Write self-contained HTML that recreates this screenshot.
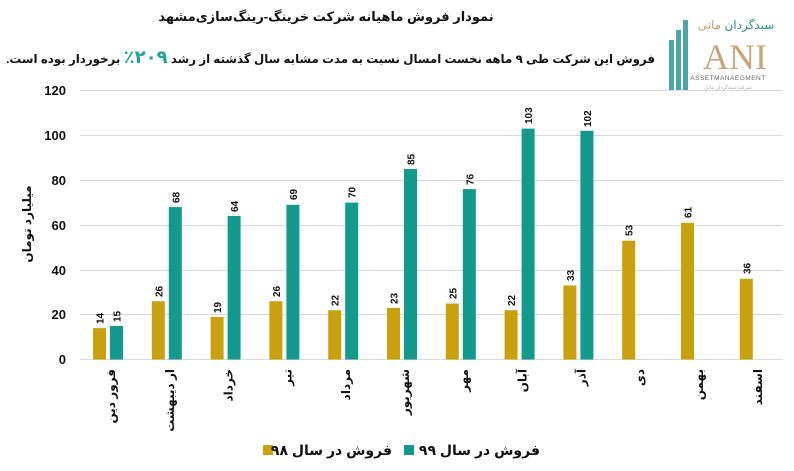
<!DOCTYPE html>
<html><head><meta charset="utf-8"><style>
body{margin:0;background:#fff;position:relative;width:794px;height:471px;overflow:hidden;}
svg{display:block;font-family:"Liberation Sans","DejaVu Sans",sans-serif;}
#sub{position:absolute;right:139px;top:47px;direction:rtl;white-space:nowrap;font-family:"Liberation Sans","DejaVu Sans",sans-serif;font-weight:bold;font-size:11.8px;color:#111;line-height:20px;}
#sub span{color:#1fa59a;font-size:18px;}
</style></head><body>
<svg width="794" height="471" viewBox="0 0 794 471" xmlns="http://www.w3.org/2000/svg">
<rect width="794" height="471" fill="#fff"/>
<text x="326" y="21" text-anchor="middle" font-size="13" font-weight="bold" fill="#111">نمودار فروش ماهیانه شرکت خرینگ-رینگ‌سازی‌مشهد</text>
<g>
<rect x="669" y="40" width="5" height="50" fill="#4aa6a8"/>
<rect x="676" y="30" width="5" height="60" fill="#4aa6a8"/>
<rect x="683" y="20" width="5" height="70" fill="#4aa6a8"/>
<text x="736" y="29" text-anchor="middle" font-size="12" fill="#2f8f94">سبدگردان <tspan fill="#c89e70">مانی</tspan></text>
<text x="735" y="69" text-anchor="middle" font-size="36" fill="#c8a47a" font-family="Liberation Serif,serif">ANI</text>
<text x="728" y="80" text-anchor="middle" font-size="6.5" fill="#666" letter-spacing="0.5">ASSETMANAEGMENT</text>
<text x="728" y="89" text-anchor="middle" font-size="5" fill="#aaa">شرکت سبدگردان مانی</text>
</g>
<g stroke="#d9d9d9" stroke-width="1">
<line x1="80" x2="783" y1="90.5" y2="90.5"/>
<line x1="80" x2="783" y1="135.5" y2="135.5"/>
<line x1="80" x2="783" y1="180.5" y2="180.5"/>
<line x1="80" x2="783" y1="225.5" y2="225.5"/>
<line x1="80" x2="783" y1="270.5" y2="270.5"/>
<line x1="80" x2="783" y1="314.5" y2="314.5"/>
<line x1="80" x2="783" y1="359.5" y2="359.5"/>
</g>
<g font-size="13" font-weight="bold" fill="#111" text-anchor="end">
<text x="66" y="95">120</text><text x="66" y="140">100</text><text x="66" y="185">80</text>
<text x="66" y="230">60</text><text x="66" y="275">40</text><text x="66" y="319">20</text><text x="66" y="364">0</text>
</g>
<text transform="translate(31,224) rotate(-90)" text-anchor="middle" font-size="12" font-weight="bold" fill="#111">میلیارد تومان</text>

<g fill="#c9a00e">
<rect x="93" y="328.1" width="13" height="31.4"/>
<rect x="151.8" y="301.2" width="13" height="58.3"/>
<rect x="210.6" y="316.9" width="13" height="42.6"/>
<rect x="269.4" y="301.2" width="13" height="58.3"/>
<rect x="328.2" y="310.2" width="13" height="49.3"/>
<rect x="387" y="307.9" width="13" height="51.6"/>
<rect x="445.8" y="303.5" width="13" height="56"/>
<rect x="504.6" y="310.2" width="13" height="49.3"/>
<rect x="563.4" y="285.5" width="13" height="74"/>
<rect x="622.2" y="240.7" width="13" height="118.8"/>
<rect x="681" y="222.8" width="13" height="136.7"/>
<rect x="739.8" y="278.8" width="13" height="80.7"/>
</g>
<g fill="#14998f">
<rect x="110" y="325.9" width="13" height="33.6"/>
<rect x="168.8" y="207.1" width="13" height="152.4"/>
<rect x="227.6" y="216" width="13" height="143.5"/>
<rect x="286.4" y="204.8" width="13" height="154.7"/>
<rect x="345.2" y="202.6" width="13" height="156.9"/>
<rect x="404" y="169" width="13" height="190.5"/>
<rect x="462.8" y="189.1" width="13" height="170.4"/>
<rect x="521.6" y="128.6" width="13" height="230.9"/>
<rect x="580.4" y="130.8" width="13" height="228.7"/>
</g>
<g font-size="10" font-weight="bold" fill="#111">
<text transform="translate(103.5,324) rotate(-90)">14</text>
<text transform="translate(162.3,297) rotate(-90)">26</text>
<text transform="translate(221.1,313) rotate(-90)">19</text>
<text transform="translate(279.9,297) rotate(-90)">26</text>
<text transform="translate(338.7,306) rotate(-90)">22</text>
<text transform="translate(397.5,304) rotate(-90)">23</text>
<text transform="translate(456.3,299) rotate(-90)">25</text>
<text transform="translate(515.1,306) rotate(-90)">22</text>
<text transform="translate(573.9,281) rotate(-90)">33</text>
<text transform="translate(632.7,236) rotate(-90)">53</text>
<text transform="translate(691.5,218) rotate(-90)">61</text>
<text transform="translate(750.3,274) rotate(-90)">36</text>
<text transform="translate(120.5,322) rotate(-90)">15</text>
<text transform="translate(179.3,203) rotate(-90)">68</text>
<text transform="translate(238.1,212) rotate(-90)">64</text>
<text transform="translate(296.9,200) rotate(-90)">69</text>
<text transform="translate(355.7,198) rotate(-90)">70</text>
<text transform="translate(414.5,165) rotate(-90)">85</text>
<text transform="translate(473.3,185) rotate(-90)">76</text>
<text transform="translate(532.1,124) rotate(-90)">103</text>
<text transform="translate(590.9,127) rotate(-90)">102</text>
</g>
<g font-size="12" font-weight="bold" fill="#111" text-anchor="end">
<text transform="translate(115,369) rotate(-90)">فرور دین</text>
<text transform="translate(173.8,369) rotate(-90)">ار دیبهشت</text>
<text transform="translate(232.6,369) rotate(-90)">خرداد</text>
<text transform="translate(291.4,369) rotate(-90)">تیر</text>
<text transform="translate(350.2,369) rotate(-90)">مرداد</text>
<text transform="translate(409,369) rotate(-90)">شهریور</text>
<text transform="translate(467.8,369) rotate(-90)">مهر</text>
<text transform="translate(526.6,369) rotate(-90)">آبان</text>
<text transform="translate(585.4,369) rotate(-90)">آذر</text>
<text transform="translate(644.2,369) rotate(-90)">دی</text>
<text transform="translate(703,369) rotate(-90)">بهمن</text>
<text transform="translate(761.8,369) rotate(-90)">اسفند</text>
</g>
<rect x="263" y="445" width="10" height="10" fill="#c9a00e"/>
<text x="392" y="455" text-anchor="end" font-size="14" font-weight="bold" fill="#111">فروش در سال ۹۸</text>
<rect x="404" y="445" width="10" height="10" fill="#14998f"/>
<text x="540" y="455" text-anchor="end" font-size="14" font-weight="bold" fill="#111">فروش در سال ۹۹</text>
</svg>
<div id="sub">فروش این شرکت طی ۹ ماهه نخست امسال نسبت به مدت مشابه سال گذشته از رشد <span>۲۰۹٪</span> برخوردار بوده است.</div>
</body></html>
